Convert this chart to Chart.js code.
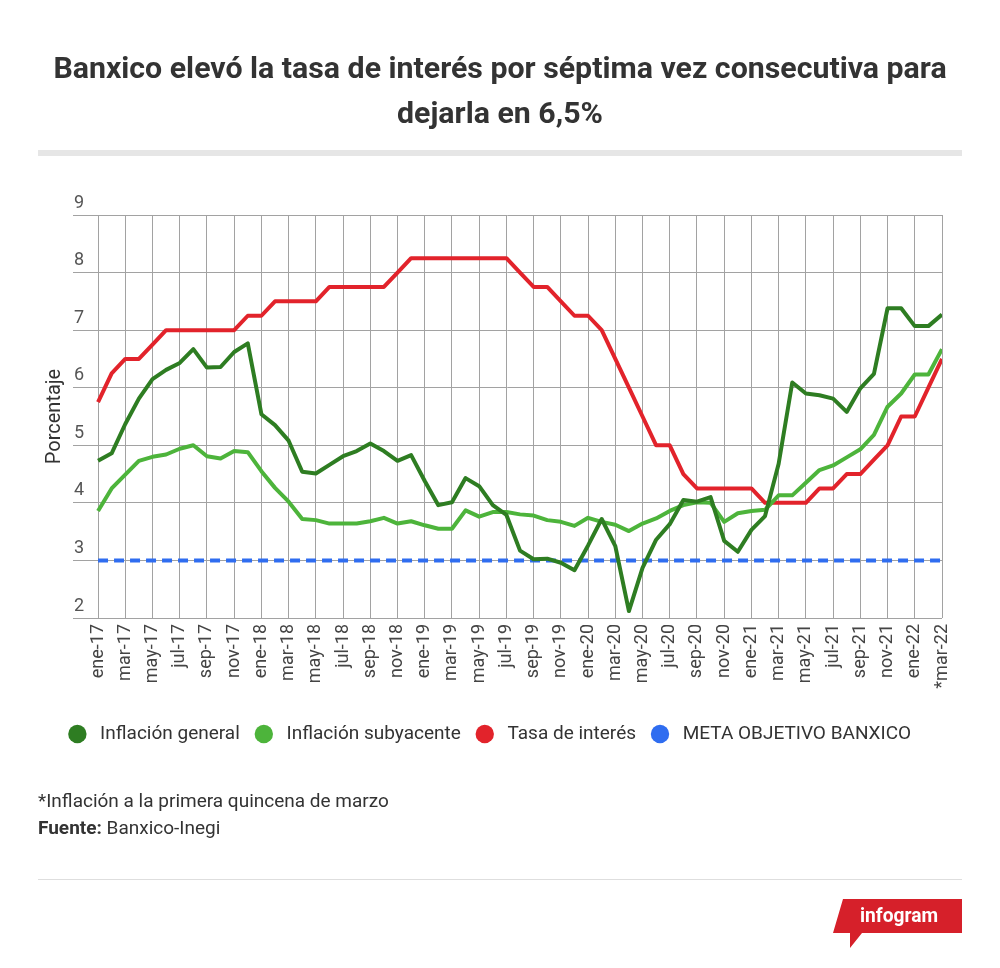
<!DOCTYPE html>
<html><head><meta charset="utf-8">
<script src="https://cdn.jsdelivr.net/npm/chart.js@4.4.1/dist/chart.umd.min.js"></script>
<style>
html,body{margin:0;padding:0;background:#fff;}
body{width:1000px;height:968px;position:relative;overflow:hidden;font-family:Roboto,"Noto Sans",sans-serif;}
#wrap{position:absolute;left:0;top:0;width:1000px;height:968px;}
#title{position:absolute;left:0;top:45px;width:1000px;text-align:center;font-weight:700;font-size:30.3px;line-height:45px;color:#333;}
#bar{position:absolute;left:38px;top:150px;width:924px;height:6px;background:#e6e6e6;}
#note{position:absolute;left:38px;top:787px;font-size:19px;color:#333;line-height:27px;}
#rule{position:absolute;left:38px;top:879px;width:924px;height:1px;background:#dedede;}
#logo{position:absolute;left:822px;top:897px;}
</style></head>
<body>
<div id="wrap"><canvas id="c"></canvas></div>
<div id="title">Banxico elevó la tasa de interés por séptima vez consecutiva para<br>dejarla en 6,5%</div>
<div id="bar"></div>
<div id="note">*Inflación a la primera quincena de marzo<br><b>Fuente:</b> Banxico-Inegi</div>
<div id="rule"></div>
<svg id="logo" width="145" height="55" viewBox="0 0 145 55">
  <polygon points="21,2 140,2 140,36 40,36 28,51 28,36 11,36" fill="#d6202a"/>
  <text x="77" y="25" fill="#fff" font-family="Roboto" font-weight="700" font-size="20" text-anchor="middle" textLength="78" lengthAdjust="spacingAndGlyphs">infogram</text>
</svg>
<script>
const months = [
  'ene-17','feb-17','mar-17','abr-17','may-17','jun-17','jul-17','ago-17','sep-17','oct-17','nov-17','dic-17',
  'ene-18','feb-18','mar-18','abr-18','may-18','jun-18','jul-18','ago-18','sep-18','oct-18','nov-18','dic-18',
  'ene-19','feb-19','mar-19','abr-19','may-19','jun-19','jul-19','ago-19','sep-19','oct-19','nov-19','dic-19',
  'ene-20','feb-20','mar-20','abr-20','may-20','jun-20','jul-20','ago-20','sep-20','oct-20','nov-20','dic-20',
  'ene-21','feb-21','mar-21','abr-21','may-21','jun-21','jul-21','ago-21','sep-21','oct-21','nov-21','dic-21',
  'ene-22','feb-22','*mar-22'
];
const inflacionGeneral = [
  4.73,4.86,5.37,5.81,6.15,6.31,6.43,6.67,6.35,6.36,6.62,6.77,
  5.54,5.35,5.08,4.54,4.51,4.66,4.81,4.90,5.03,4.90,4.73,4.83,
  4.38,3.96,4.01,4.43,4.29,3.96,3.79,3.17,3.02,3.03,2.96,2.83,
  3.26,3.72,3.25,2.12,2.87,3.36,3.63,4.05,4.02,4.10,3.34,3.15,
  3.53,3.77,4.68,6.09,5.90,5.87,5.81,5.58,5.99,6.24,7.38,7.38,
  7.07,7.07,7.27
];
const inflacionSubyacente = [
  3.86,4.25,4.49,4.73,4.80,4.84,4.94,5.00,4.81,4.77,4.90,4.88,
  4.55,4.26,4.02,3.72,3.70,3.64,3.64,3.64,3.68,3.74,3.64,3.68,
  3.61,3.55,3.55,3.87,3.76,3.84,3.84,3.80,3.78,3.70,3.67,3.60,
  3.74,3.67,3.62,3.51,3.64,3.73,3.86,3.96,4.01,4.00,3.67,3.82,
  3.86,3.88,4.13,4.13,4.35,4.57,4.65,4.79,4.93,5.18,5.67,5.90,
  6.23,6.23,6.67
];
const tasaInteres = [
  5.75,6.25,6.50,6.50,6.75,7.00,7.00,7.00,7.00,7.00,7.00,7.25,
  7.25,7.50,7.50,7.50,7.50,7.75,7.75,7.75,7.75,7.75,8.00,8.25,
  8.25,8.25,8.25,8.25,8.25,8.25,8.25,8.00,7.75,7.75,7.50,7.25,
  7.25,7.00,6.50,6.00,5.50,5.00,5.00,4.50,4.25,4.25,4.25,4.25,
  4.25,4.00,4.00,4.00,4.00,4.25,4.25,4.50,4.50,4.75,5.00,5.50,
  5.50,6.00,6.50
];
const metaBanxico = [
  3,3,3,3,3,3,3,3,3,3,3,3,
  3,3,3,3,3,3,3,3,3,3,3,3,
  3,3,3,3,3,3,3,3,3,3,3,3,
  3,3,3,3,3,3,3,3,3,3,3,3,
  3,3,3,3,3,3,3,3,3,3,3,3,
  3,3,3
];
const yTicks = [2,3,4,5,6,7,8,9];
const seriesNames = ['Inflación general','Inflación subyacente','Tasa de interés','META OBJETIVO BANXICO'];
const seriesColors = ['#2e7d22','#4db43b','#e2232b','#2f6df0'];

const toXY = arr => arr.map((v, i) => ({x: i, y: v}));
const FONT = 'Roboto';

new Chart(document.getElementById('c'), {
  type: 'line',
  data: {
    datasets: [inflacionGeneral, inflacionSubyacente, tasaInteres, metaBanxico].map((arr, k) => ({
      label: seriesNames[k],
      data: toXY(arr),
      borderColor: seriesColors[k],
      backgroundColor: seriesColors[k],
      borderWidth: 4,
      pointRadius: 0,
      tension: 0,
      borderJoinStyle: 'round',
      borderDash: k === 3 ? [10, 6] : []
    }))
  },
  options: {
    responsive: true,
    maintainAspectRatio: false,
    animation: false,
    layout: {padding: {left: 38, right: 58, top: 215, bottom: 214.5}},
    plugins: {
      legend: {
        position: 'bottom',
        labels: {
          usePointStyle: true,
          pointStyle: 'circle',
          boxWidth: 17,
          boxHeight: 13,
          padding: 15.5,
          color: '#333',
          font: {family: FONT, size: 19},
          generateLabels(chart) {
            const items = Chart.defaults.plugins.legend.labels.generateLabels(chart);
            return items.map(it => Object.assign({}, it, {
              lineWidth: 0, fillStyle: it.strokeStyle, lineDash: [], text: ' ' + it.text
            }));
          }
        }
      },
      tooltip: {enabled: false}
    },
    scales: {
      x: {
        type: 'linear',
        min: -1.84,
        max: 62,
        afterBuildTicks: a => { a.ticks = months.map((m, i) => ({value: i})).filter(t => t.value % 2 === 0); },
        afterFit: a => { a.height = 91; a.paddingLeft = 0; a.paddingRight = 0; },
        grid: {color: '#a2a2a2', lineWidth: 1, drawTicks: false},
        border: {display: false},
        ticks: {
          autoSkip: false, minRotation: 90, maxRotation: 90, padding: 6,
          color: '#444', font: {family: FONT, size: 18},
          callback: v => months[v]
        }
      },
      y: {
        min: 2,
        max: 9,
        afterBuildTicks: a => { a.ticks = yTicks.map(v => ({value: v})); },
        afterFit: a => { a.width = 35; a.paddingTop = 0; a.paddingBottom = 0; },
        grid: {color: '#a2a2a2', lineWidth: 1, drawTicks: false},
        border: {display: false},
        ticks: {mirror: true, padding: 1, labelOffset: -12, color: '#555', font: {family: FONT, size: 18}},
        title: {display: true, text: 'Porcentaje', color: '#333', font: {family: FONT, size: 20}, padding: {top: 5, bottom: 0}}
      }
    }
  }
});
</script>
</body></html>
